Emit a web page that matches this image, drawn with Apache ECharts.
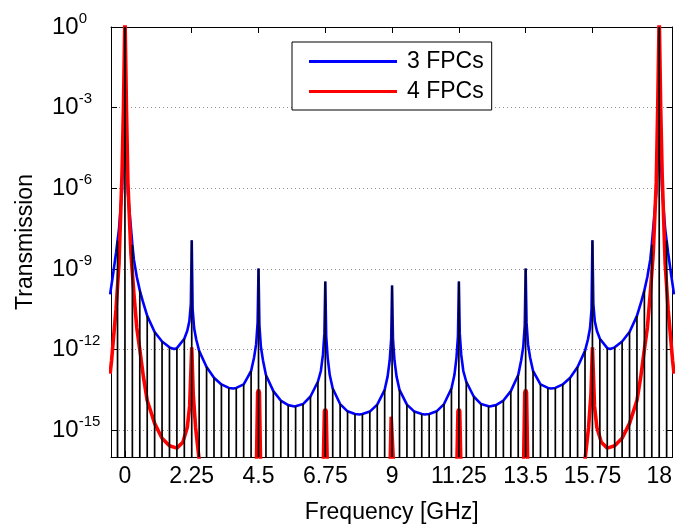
<!DOCTYPE html>
<html>
<head>
<meta charset="utf-8">
<script src="https://cdn.jsdelivr.net/npm/echarts@6/dist/echarts.min.js"></script>
<style>
  html, body { margin: 0; padding: 0; background: #fff; }
  #chart { width: 675px; height: 530px; }
</style>
</head>
<body>
<div id="chart"></div>
<script>
// Values; transmission is kept as log10(T)
const xTicks = [0, 2.25, 4.5, 6.75, 9, 11.25, 13.5, 15.75, 18];
const yTicks = [-15, -12, -9, -6, -3, 0];

// 3 FPCs (blue)
const blueFreq = [-0.5, -0.4, -0.3, -0.25, -0.2, -0.1, -0.04, 0, 0.04, 0.1, 0.17, 0.25, 0.3, 0.4, 0.5, 0.6, 0.75, 1.0, 1.25, 1.5, 1.65, 1.75, 2.0, 2.1, 2.17, 2.22, 2.25, 2.28, 2.33, 2.4, 2.5, 2.75, 3.0, 3.25, 3.5, 3.65, 3.75, 4.0, 4.15, 4.25, 4.35, 4.42, 4.47, 4.5, 4.53, 4.58, 4.65, 4.75, 5.0, 5.25, 5.5, 5.72, 6.0, 6.25, 6.5, 6.6, 6.67, 6.72, 6.75, 6.78, 6.83, 6.9, 7.0, 7.25, 7.5, 7.75, 7.9, 8.0, 8.25, 8.5, 8.75, 8.85, 8.92, 8.97, 9.0,
  9.03, 9.08, 9.15, 9.25, 9.5, 9.75, 10.0, 10.1, 10.25, 10.5, 10.75, 11.0, 11.1, 11.17, 11.22, 11.25, 11.28, 11.33, 11.4, 11.5, 11.75, 12.0, 12.28, 12.5, 12.75, 13.0, 13.25, 13.35, 13.42, 13.47, 13.5, 13.53, 13.58, 13.65, 13.75, 13.85, 14.0, 14.25, 14.35, 14.5, 14.75, 15.0, 15.25, 15.5, 15.6, 15.67, 15.72, 15.75, 15.78, 15.83, 15.9, 16.0, 16.25, 16.35, 16.5, 16.75, 17.0, 17.25, 17.4, 17.5, 17.6, 17.7, 17.75, 17.83, 17.9, 17.96, 18.0, 18.04, 18.1, 18.2, 18.25, 18.3, 18.4, 18.5];
const blueLog = [-9.95, -9.2, -8.4, -7.95, -7.5, -6.1, -4.5, 0, -4.6, -6.2, -7.07, -8.1, -8.65, -9.3, -9.8, -10.2, -10.75, -11.35, -11.7, -11.92, -11.98, -11.95, -11.6, -11.3, -10.95, -10.3, -7.94, -10.5, -11.2, -11.62, -12.05, -12.65, -13.05, -13.3, -13.43, -13.45, -13.43, -13.3, -13.0, -12.8, -12.3, -11.8, -11.0, -8.99, -11.1, -11.9, -12.4, -12.95, -13.55, -13.9, -14.07, -14.12, -14.03, -13.75, -13.2, -12.8, -12.2, -11.4, -9.47, -11.5, -12.3, -12.95, -13.45, -14.03, -14.3, -14.4, -14.42, -14.4, -14.31, -14.05, -13.5, -13.0, -12.4, -11.6, -9.62,
  -11.6, -12.4, -13.0, -13.5, -14.05, -14.31, -14.4, -14.42, -14.4, -14.3, -14.03, -13.45, -12.95, -12.3, -11.5, -9.47, -11.4, -12.2, -12.8, -13.2, -13.75, -14.03, -14.12, -14.07, -13.9, -13.55, -12.95, -12.4, -11.9, -11.1, -8.99, -11.0, -11.8, -12.3, -12.8, -13.0, -13.3, -13.43, -13.45, -13.43, -13.3, -13.05, -12.65, -12.05, -11.62, -11.2, -10.5, -7.94, -10.3, -10.95, -11.3, -11.6, -11.95, -11.98, -11.92, -11.7, -11.35, -10.75, -10.2, -9.8, -9.3, -8.65, -8.1, -7.07, -6.2, -4.6, 0, -4.5, -6.1, -7.5, -7.95, -8.4, -9.2, -9.95];

// 4 FPCs (red)
const redFreq = [-0.5, -0.45, -0.4, -0.3, -0.2, -0.1, -0.05, 0, 0.05, 0.1, 0.2, 0.3, 0.4, 0.5, 0.62, 0.75, 1.0, 1.25, 1.5, 1.75, 1.95, 2.1, 2.18, 2.25, 2.3, 2.38, 2.5, 2.6,
  4.42, 4.47, 4.5, 4.53, 4.58, 6.67, 6.72, 6.75, 6.78, 6.83, 8.92, 8.97, 9.0, 9.03, 9.08, 11.17, 11.22, 11.25, 11.28, 11.33, 13.42, 13.47, 13.5, 13.53, 13.58,
  15.4, 15.5, 15.62, 15.7, 15.75, 15.82, 15.9, 16.05, 16.25, 16.5, 16.75, 17.0, 17.25, 17.38, 17.5, 17.6, 17.7, 17.8, 17.9, 17.95, 18.0, 18.05, 18.1, 18.2, 18.3, 18.4, 18.45, 18.5];
const redLog = [-12.9, -12.4, -11.75, -10.5, -8.8, -5.5, -3.0, 0.5, -3.0, -5.8, -8.4, -9.9, -11.2, -12.0, -13.0, -13.9, -14.75, -15.3, -15.58, -15.67, -15.45, -14.9, -14.1, -11.92, -13.66, -14.9, -16.1, -17,
  -17, -13.6, -13.5, -13.6, -17, -17, -14.3, -14.22, -14.3, -17, -17, -14.5, -14.43, -14.5, -17, -17, -14.3, -14.22, -14.3, -17, -17, -13.6, -13.5, -13.6, -17,
  -17, -16.1, -14.9, -13.66, -11.92, -14.1, -14.9, -15.45, -15.67, -15.58, -15.3, -14.75, -13.9, -13.0, -12.0, -11.2, -9.9, -8.4, -5.8, -3.0, 0.5, -3.0, -5.5, -8.8, -10.5, -11.75, -12.4, -12.9];

// comb lines every 0.25 GHz, reaching the blue curve
const stemFreq = [-0.25, 0, 0.25, 0.5, 0.75, 1, 1.25, 1.5, 1.75, 2, 2.25, 2.5, 2.75, 3, 3.25, 3.5, 3.75, 4, 4.25, 4.5, 4.75, 5, 5.25, 5.5, 5.75, 6, 6.25, 6.5, 6.75, 7, 7.25, 7.5, 7.75, 8, 8.25, 8.5, 8.75, 9,
  9.25, 9.5, 9.75, 10, 10.25, 10.5, 10.75, 11, 11.25, 11.5, 11.75, 12, 12.25, 12.5, 12.75, 13, 13.25, 13.5, 13.75, 14, 14.25, 14.5, 14.75, 15, 15.25, 15.5, 15.75, 16, 16.25, 16.5, 16.75, 17, 17.25, 17.5, 17.75, 18, 18.25];
const stemLog = [-7.95, 0, -8.1, -9.8, -10.75, -11.35, -11.7, -11.92, -11.95, -11.6, -7.94, -12.05, -12.65, -13.05, -13.3, -13.43, -13.43, -13.3, -12.8, -8.99, -12.95, -13.55, -13.9, -14.07, -14.12, -14.03, -13.75, -13.2, -9.47, -13.45, -14.03, -14.3, -14.4, -14.4, -14.31, -14.05, -13.5, -9.62,
  -13.5, -14.05, -14.31, -14.4, -14.4, -14.3, -14.03, -13.45, -9.47, -13.2, -13.75, -14.03, -14.12, -14.07, -13.9, -13.55, -12.95, -8.99, -12.8, -13.3, -13.43, -13.43, -13.3, -13.05, -12.65, -12.05, -7.94, -11.6, -11.95, -11.92, -11.7, -11.35, -10.75, -9.8, -8.1, 0, -7.95];

const yMin = -16, yMax = 0;
const xMin = -0.47, xMax = 18.45;
const font = "'Liberation Sans', Arial, sans-serif";

const chart = echarts.init(document.getElementById('chart'), null, { renderer: 'canvas' });

const pairs = (xs, ys) => xs.map((x, i) => [x, ys[i]]);

chart.setOption({
  animation: false,
  backgroundColor: '#fff',
  textStyle: { fontFamily: font, color: '#000' },
  grid: { left: 111, right: 2, top: 27, height: 430, containLabel: false },
  legend: {
    data: ['3 FPCs', '4 FPCs'],
    orient: 'vertical',
    left: 292,
    top: 42,
    icon: 'rect',
    itemWidth: 88,
    itemHeight: 3,
    itemGap: 7,
    padding: [8, 8, 7, 17],
    backgroundColor: '#fff',
    borderColor: '#000',
    borderWidth: 1,
    textStyle: { fontFamily: font, fontSize: 23, color: '#000', padding: [0, 0, 0, 5] }
  },
  xAxis: [{
    type: 'value',
    min: xMin,
    max: xMax,
    position: 'bottom',
    name: 'Frequency [GHz]',
    nameLocation: 'middle',
    nameGap: 44,
    nameTextStyle: { fontFamily: font, fontSize: 23, color: '#000' },
    axisLine: { show: true, onZero: false, lineStyle: { color: '#000', width: 1 } },
    axisTick: { show: true, inside: true, length: 6, customValues: xTicks, lineStyle: { color: '#000' } },
    axisLabel: { customValues: xTicks, margin: 8, fontFamily: font, fontSize: 23, color: '#000', formatter: v => String(v) },
    splitLine: { show: false }
  }, {
    type: 'value',
    min: xMin,
    max: xMax,
    position: 'top',
    axisLine: { show: true, onZero: false, lineStyle: { color: '#000', width: 1 } },
    axisTick: { show: true, inside: true, length: 6, customValues: xTicks, lineStyle: { color: '#000' } },
    axisLabel: { show: false },
    splitLine: { show: false }
  }],
  yAxis: [{
    type: 'value',
    min: yMin,
    max: yMax,
    position: 'left',
    name: 'Transmission',
    nameLocation: 'middle',
    nameGap: 74,
    nameTextStyle: { fontFamily: font, fontSize: 23, color: '#000' },
    axisLine: { show: true, onZero: false, lineStyle: { color: '#000', width: 1 } },
    axisTick: { show: true, inside: true, length: 6, customValues: yTicks, lineStyle: { color: '#000' } },
    axisLabel: {
      customValues: yTicks,
      align: 'left',
      margin: 59,
      formatter: v => '{b|10}{s|' + v + '}',
      rich: {
        b: { fontFamily: font, fontSize: 24, color: '#000' },
        s: { fontFamily: font, fontSize: 15, color: '#000', padding: [0, 0, 17, 0] }
      }
    },
    splitLine: { show: true, lineStyle: { color: '#8c8c8c', width: 1, type: [1, 3] } }
  }, {
    type: 'value',
    min: yMin,
    max: yMax,
    position: 'right',
    axisLine: { show: true, onZero: false, lineStyle: { color: '#000', width: 1 } },
    axisTick: { show: true, inside: true, length: 6, customValues: yTicks, lineStyle: { color: '#000' } },
    axisLabel: { show: false },
    splitLine: { show: false }
  }],
  series: [{
    name: '3 FPCs',
    type: 'line',
    data: pairs(blueFreq, blueLog),
    showSymbol: false,
    symbol: 'none',
    clip: true,
    lineStyle: { color: '#0000ff', width: 2.6 },
    itemStyle: { color: '#0000ff' },
    z: 2
  }, {
    name: '4 FPCs',
    type: 'line',
    data: pairs(redFreq, redLog),
    showSymbol: false,
    symbol: 'none',
    clip: true,
    lineStyle: { color: '#ff0000', width: 3.6 },
    itemStyle: { color: '#ff0000' },
    z: 3
  }, {
    name: 'comb',
    type: 'custom',
    data: pairs(stemFreq, stemLog),
    clip: true,
    z: 4,
    renderItem: (params, api) => {
      const top = api.coord([api.value(0), api.value(1)]);
      const base = api.coord([api.value(0), yMin]);
      return {
        type: 'line',
        shape: { x1: top[0], y1: top[1], x2: base[0], y2: base[1] },
        style: { stroke: '#000', lineWidth: 1.7 }
      };
    }
  }]
});
</script>
</body>
</html>
